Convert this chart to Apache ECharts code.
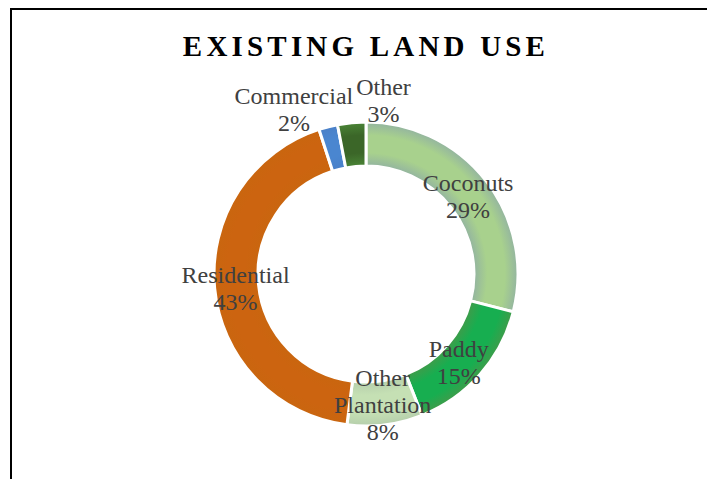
<!DOCTYPE html>
<html>
<head>
<meta charset="utf-8">
<style>
  html, body { margin: 0; padding: 0; background: #fff; }
  #chart { width: 707px; height: 479px; }
  /* widen the tracking of the bold heading only */
  #chart svg text[style*="bold"] { letter-spacing: 4.2px; }
</style>
<script src="https://cdn.jsdelivr.net/npm/echarts@6/dist/echarts.min.js"></script>
</head>
<body>
<div id="chart"></div>
<script>
// Land-use shares (percent), clockwise from 12 o'clock
const categories = ['Coconuts', 'Paddy', 'Other Plantation', 'Residential', 'Commercial', 'Other'];
const shares = [29, 15, 8, 43, 2, 3];
const chartTitle = 'EXISTING LAND USE';

// Ring shading: [edge colour, middle colour] per slice
const palette = [
  ['#93b4a0', '#a8d18d'],
  ['#3f9c4a', '#17ae50'],
  ['#b5ceab', '#c5e0b4'],
  ['#c9660f', '#cc6410'],
  ['#4a80c8', '#4a86d0'],
  ['#4a8436', '#3b6628']
];

const cx = 366, cy = 274, rIn = 108, rOut = 152;
const inner = rIn / rOut;

function ringFill(pair) {
  const span = 1 - inner;
  return new echarts.graphic.RadialGradient(cx, cy, rOut, [
    { offset: 0, color: pair[0] },
    { offset: inner, color: pair[0] },
    { offset: inner + span * 0.3, color: pair[1] },
    { offset: inner + span * 0.7, color: pair[1] },
    { offset: 1, color: pair[0] }
  ], true);
}

// Label nudges away from the ring's mid-line; the two thin slices carry theirs above the ring
const labelNudge = {
  0: [-3, 4], 1: [-7, 1], 2: [0, -1], 3: [2, 2],
  4: [-39, -36], 5: [30, -41]
};

const chart = echarts.init(document.getElementById('chart'), null, { renderer: 'svg' });
chart.setOption({
  backgroundColor: '#ffffff',
  animation: false,
  title: {
    text: chartTitle,
    left: 361,
    top: 26,
    textAlign: 'center',
    textStyle: {
      fontFamily: 'Liberation Serif',
      fontWeight: 'bold',
      fontSize: 29,
      color: '#000000'
    }
  },
  graphic: [{
    type: 'rect',
    shape: { x: 11, y: 9, width: 760, height: 520 },
    style: { fill: 'none', stroke: '#000000', lineWidth: 2 },
    silent: true
  }],
  series: [{
    type: 'pie',
    center: [cx, cy],
    radius: [rIn, rOut],
    startAngle: 90,
    clockwise: true,
    avoidLabelOverlap: false,
    itemStyle: { borderColor: '#ffffff', borderWidth: 3 },
    label: {
      show: true,
      position: 'inside',
      fontFamily: 'Liberation Serif',
      fontSize: 24,
      lineHeight: 27,
      color: '#404040',
      align: 'center',
      formatter: p => p.name.replace(' ', '\n') + '\n' + p.percent + '%'
    },
    labelLine: { show: false },
    labelLayout: params => {
      const n = labelNudge[params.dataIndex];
      return n ? { dx: n[0], dy: n[1] } : {};
    },
    data: categories.map((name, i) => ({
      name: name,
      value: shares[i],
      itemStyle: { color: ringFill(palette[i]) }
    }))
  }]
});
</script>
</body>
</html>
